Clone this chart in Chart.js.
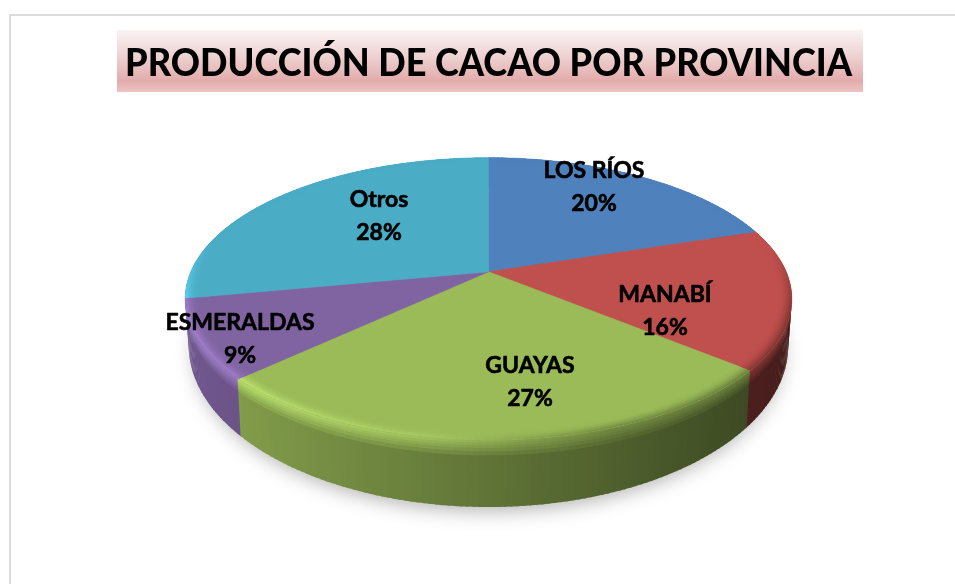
<!DOCTYPE html>
<html>
<head>
<meta charset="utf-8">
<script src="https://cdn.jsdelivr.net/npm/chart.js@4/dist/chart.umd.min.js"></script>
<style>html,body{margin:0;padding:0;background:#fff}canvas{display:block}</style>
</head>
<body>
<canvas id="c" width="955" height="584"></canvas>
<script>
const titleText = 'PRODUCCIÓN DE CACAO POR PROVINCIA';
const categories = ['LOS RÍOS', 'MANABÍ', 'GUAYAS', 'ESMERALDAS', 'Otros'];
const shares = [20, 16, 27, 9, 28];
const colors = ['#4F81BD', '#C0504D', '#9BBB59', '#8064A2', '#4BACC6'];

// label centres (canvas px), layout only
const labelSpots = [[594,171],[665,295],[530,366],[240,323],[379,200]];

// perspective of the tilted disc, relative to the library's outer radius
const PERSP = -0.1915, SX = 1.652, SY = 0.7544, DEPTH = 0.2433, SHRINK = 0.012;

const hex = h => [1,3,5].map(i => parseInt(h.substr(i,2),16));
const mix = (a,b,t) => a.map((v,i) => v + (b[i]-v)*t);
const css = c => `rgb(${c.map(v=>Math.round(Math.min(255,v))).join(',')})`;
const clamp = (v,a,b) => Math.max(a,Math.min(b,v));

const pie3d = {
  id: 'pie3d',
  beforeDraw(chart) {
    const ctx = chart.ctx;
    ctx.save();
    ctx.fillStyle = '#fff';
    ctx.fillRect(0,0,955,584);
    ctx.strokeStyle = '#dcdcdc';
    ctx.lineWidth = 2;
    ctx.beginPath();
    ctx.moveTo(10,584); ctx.lineTo(10,15); ctx.lineTo(955,15);
    ctx.stroke();
    const g = ctx.createLinearGradient(0,30,0,92);
    g.addColorStop(0,'#fbf3f3');
    g.addColorStop(0.42,'#eed2d2');
    g.addColorStop(0.82,'#e3abab');
    g.addColorStop(1,'#edc4c4');
    ctx.fillStyle = g;
    ctx.fillRect(117,30,746,62);
    ctx.restore();
  },
  beforeDatasetsDraw(chart) {
    const ctx = chart.ctx;
    const els = chart.getDatasetMeta(0).data;
    const cx = els[0].x, cy = els[0].y, R = els[0].outerRadius;
    const proj = (t,r,h) => {
      const u = r*Math.cos(t), v = r*Math.sin(t), w = 1 + PERSP*v;
      return [cx + SX*R*u/w*(1-SHRINK*h), cy + SY*R*v/w + h*DEPTH*R/(w*w)];
    };
    const leftX = cx - 303, rightX = cx + 303;
    const quad = (a,b,c,d,col) => {
      ctx.fillStyle = col;
      ctx.beginPath();
      ctx.moveTo(a[0],a[1]); ctx.lineTo(b[0],b[1]); ctx.lineTo(c[0],c[1]); ctx.lineTo(d[0],d[1]);
      ctx.closePath(); ctx.fill();
    };
    const STEP = Math.PI/180, OVER = STEP*0.35;
    const segs = el => {
      const span = el.endAngle - el.startAngle;
      const n = Math.max(1,Math.ceil(span/STEP)), out = [];
      for (let i=0;i<n;i++) out.push([el.startAngle+span*i/n, el.startAngle+span*(i+1)/n]);
      return out;
    };
    const shade = (base,t) => {
      const p = proj(t,1,0);
      const f = clamp((p[0]-leftX)/(rightX-leftX),0,1);
      const w = clamp((Math.sin(t)+0.2)/0.5,0,1);
      const side = mix([0,0,0],base,0.88-0.52*f);
      const hl = clamp(1-f/0.55,0,1)*w;
      const bright = base.map(v => v*1.22+6);
      const dark = mix(base,side,0.5);
      const rim = mix(mix(base,dark,w*clamp((f-0.4)/0.3,0,1)),bright,hl);
      return {side,rim};
    };

    ctx.save();
    // ground shadow
    ctx.save();
    ctx.shadowColor = 'rgba(0,0,0,0.32)';
    ctx.shadowBlur = 20;
    ctx.shadowOffsetY = 8;
    ctx.fillStyle = '#999';
    ctx.beginPath();
    for (let a=0;a<=360;a+=2){
      const p = proj(a*STEP,0.98,1);
      a ? ctx.lineTo(p[0],p[1]) : ctx.moveTo(p[0],p[1]);
    }
    ctx.closePath(); ctx.fill();
    ctx.restore();

    // side wall, back to front, with a soft blend down from the rim
    const hs = [0,0.04,0.08,0.12,0.17,0.23,0.3,1];
    const wall = [];
    els.forEach((el,i) => segs(el).forEach(s => wall.push([s[0],s[1],hex(colors[i])])));
    wall.sort((p,q) => Math.sin((p[0]+p[1])/2) - Math.sin((q[0]+q[1])/2));
    wall.forEach(([a,b,base]) => {
      const s = shade(base,(a+b)/2);
      const e = b + OVER;
      for (let k=0;k<hs.length-1;k++){
        const col = mix(s.rim,s.side,clamp(hs[k+1]/0.3,0,1));
        const h1 = k < hs.length-2 ? hs[k+1]+0.015 : 1;
        quad(proj(a,1,hs[k]),proj(e,1,hs[k]),proj(e,1,h1),proj(a,1,h1),css(col));
      }
    });
    // top faces
    els.forEach((el,i) => {
      ctx.fillStyle = colors[i]; ctx.strokeStyle = colors[i]; ctx.lineWidth = 0.6;
      ctx.beginPath();
      ctx.moveTo(cx,cy);
      segs(el).forEach(([a]) => { const p = proj(a,1,0); ctx.lineTo(p[0],p[1]); });
      const e = proj(el.endAngle,1,0); ctx.lineTo(e[0],e[1]);
      ctx.closePath(); ctx.fill(); ctx.stroke();
    });
    // bevel ring on the top face
    const rs = [0.96,0.97,0.978,0.985,0.991,0.996,1];
    els.forEach((el,i) => {
      const base = hex(colors[i]);
      segs(el).forEach(([a,b]) => {
        const s = shade(base,(a+b)/2);
        const e = Math.min(b + OVER, el.endAngle);
        for (let k=0;k<rs.length-1;k++){
          const t = (rs[k+1]-rs[0])/(1-rs[0]);
          const r1 = k < rs.length-2 ? rs[k+1]+0.002 : 1;
          quad(proj(a,rs[k],0),proj(e,rs[k],0),proj(e,r1,0),proj(a,r1,0),css(mix(base,s.rim,t*t)));
        }
      });
    });
    // labels
    ctx.fillStyle = '#000';
    ctx.strokeStyle = '#000';
    ctx.lineWidth = 0.6;
    ctx.lineJoin = 'round';
    ctx.font = 'bold 23px Lato';
    ctx.textAlign = 'center';
    ctx.textBaseline = 'middle';
    els.forEach((el,i) => {
      const [x,y] = labelSpots[i];
      const lines = [categories[i], shares[i] + '%'];
      lines.forEach((t,j) => {
        ctx.fillText(t, x, y + 33*j);
        ctx.strokeText(t, x, y + 33*j);
      });
    });
    ctx.restore();
    return false;
  }
};

new Chart(document.getElementById('c'), {
  type: 'pie',
  data: { labels: categories, datasets: [{ data: shares, backgroundColor: colors, borderWidth: 0 }] },
  options: {
    responsive: false,
    animation: false,
    layout: { padding: { left: 125, right: 103, top: 0, bottom: 132 } },
    plugins: {
      legend: { display: false },
      tooltip: { enabled: false },
      title: {
        display: true,
        text: titleText,
        color: '#000',
        font: { family: 'Lato', weight: '900', size: 38 },
        padding: { top: 41, bottom: 5 }
      }
    }
  },
  plugins: [pie3d]
});
</script>
</body>
</html>
